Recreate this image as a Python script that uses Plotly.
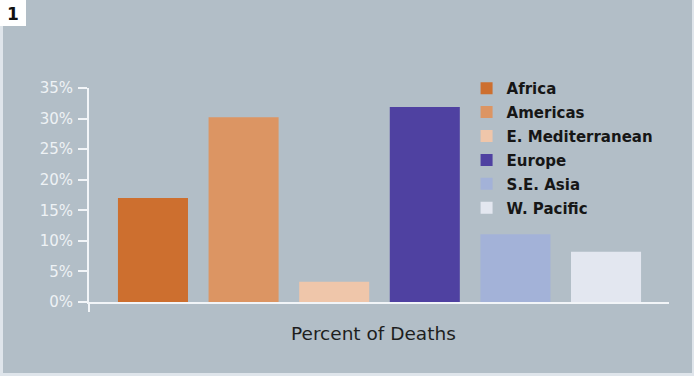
import plotly.graph_objects as go

# Share of deaths by WHO region
regions = ["Africa", "Americas", "E. Mediterranean", "Europe", "S.E. Asia", "W. Pacific"]
percent_of_deaths = [17.0, 30.2, 3.3, 31.9, 11.1, 8.2]
bar_colors = ["#cd6f2f", "#dc9563", "#efc6aa", "#4f41a1", "#a3b2d8", "#e3e7f0"]
y_ticks = [0, 5, 10, 15, 20, 25, 30, 35]
x_title = "Percent of Deaths"

W, H = 694, 376
panel = "#b2bec7"
axis_col = "#f2f5f8"
FONT = "DejaVu Sans"

fig = go.Figure()
for i, (name, val, col) in enumerate(zip(regions, percent_of_deaths, bar_colors)):
    fig.add_trace(go.Bar(
        x=[i], y=[val], name=name,
        marker=dict(color=col, line=dict(width=0)),
        width=0.773,
        legendgroup=name,
        hovertemplate=name + ": %{y}%<extra></extra>",
    ))

fig.update_layout(
    width=W, height=H,
    margin=dict(l=89, r=25, t=88, b=74),
    paper_bgcolor="#dfe5eb",
    plot_bgcolor=panel,
    barmode="overlay",
    showlegend=True,
    legend=dict(
        x=0.651, xanchor="left", y=1.075, yanchor="top",
        bgcolor="rgba(0,0,0,0)",
        font=dict(family=FONT, size=15, color="#161616", weight="bold"),
        traceorder="grouped", tracegroupgap=1.4,
        itemclick=False, itemdoubleclick=False,
    ),
    xaxis=dict(
        range=[-0.706, 5.695],
        showticklabels=False, ticks="",
        showgrid=False, zeroline=False,
        showline=True, linecolor=axis_col, linewidth=2,
    ),
    yaxis=dict(
        range=[0, 35],
        tickvals=y_ticks,
        ticktext=[f"{v}%" for v in y_ticks],
        ticks="outside", ticklen=9, tickwidth=2, tickcolor=axis_col,
        ticklabelstandoff=2,
        tickfont=dict(family=FONT, size=15, color="#eef2f5"),
        showgrid=False, zeroline=False,
        showline=True, linecolor=axis_col, linewidth=2,
    ),
    font=dict(family=FONT),
)

shapes = [
    # grey panel behind the whole chart
    dict(type="rect", xref="paper", yref="paper", layer="below",
         x0=(3 - 89) / 580, x1=(692 - 89) / 580,
         y0=(302 - 373) / 214, y1=(302 - 0) / 214,
         fillcolor=panel, line=dict(width=0)),
    # white number tab in the corner
    dict(type="rect", xref="paper", yref="paper", layer="below",
         x0=(0 - 89) / 580, x1=(26 - 89) / 580,
         y0=(302 - 26) / 214, y1=(302 + 2) / 214,
         fillcolor="#ffffff", line=dict(width=0)),
    # y-axis stub below the baseline
    dict(type="line", xref="paper", yref="paper",
         x0=0, x1=0, y0=0, y1=-10 / 214,
         line=dict(color=axis_col, width=2)),
]
fig.update_layout(shapes=shapes)

# x-axis caption under the baseline
fig.add_annotation(
    xref="paper", yref="paper",
    x=(373.5 - 89) / 580, y=(302 - 333) / 214,
    text=x_title, showarrow=False,
    font=dict(family=FONT, size=18.5, color="#1e1e1e"),
    xanchor="center", yanchor="middle",
)

# panel number tab
fig.add_annotation(
    xref="paper", yref="paper",
    x=(13 - 89) / 580, y=(302 - 14) / 214,
    text="<b>1</b>", showarrow=False,
    font=dict(family=FONT, size=17, color="#111111"),
    xanchor="center", yanchor="middle",
)

fig.write_html("out.html")
